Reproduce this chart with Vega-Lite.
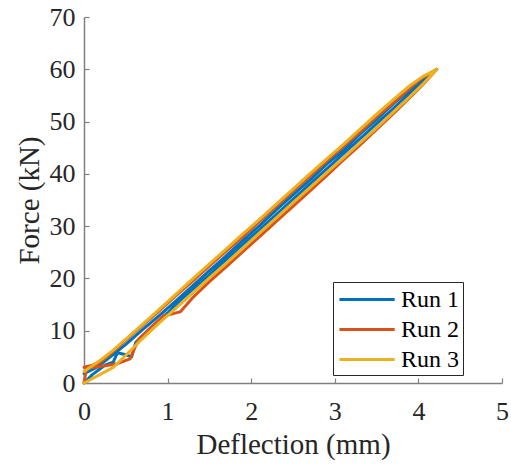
{
  "$schema": "https://vega.github.io/schema/vega-lite/v6.json",
  "width": 418,
  "height": 366,
  "autosize": {"type": "none"},
  "padding": {"left": 84, "top": 17, "right": 9, "bottom": 81},
  "background": "white",
  "config": {
    "view": {"stroke": null},
    "font": "Liberation Serif",
    "axis": {
      "grid": false,
      "domainColor": "#808080",
      "domainWidth": 1.5,
      "tickColor": "#808080",
      "tickWidth": 1.2,
      "tickSize": -5,
      "labelFlush": false,
      "labelOverlap": false,
      "labelBound": false,
      "labelFont": "Liberation Serif",
      "labelFontSize": 26,
      "labelColor": "#262626",
      "titleFont": "Liberation Serif",
      "titleFontSize": 29,
      "titleFontWeight": "normal",
      "titleColor": "#262626"
    }
  },
  "data": {
    "values": [
      {"run":"Run 1","i":0,"x":0,"y":0},
      {"run":"Run 1","i":1,"x":0.1,"y":1.6},
      {"run":"Run 1","i":2,"x":0.25,"y":3.4},
      {"run":"Run 1","i":3,"x":0.35,"y":4.0},
      {"run":"Run 1","i":4,"x":0.4,"y":5.8},
      {"run":"Run 1","i":5,"x":0.5,"y":5.4},
      {"run":"Run 1","i":6,"x":0.57,"y":5.0},
      {"run":"Run 1","i":7,"x":0.62,"y":7.8},
      {"run":"Run 1","i":8,"x":0.8,"y":10.6},
      {"run":"Run 1","i":9,"x":1.0,"y":13.4},
      {"run":"Run 1","i":10,"x":1.15,"y":15.8},
      {"run":"Run 1","i":11,"x":1.3,"y":17.9},
      {"run":"Run 1","i":12,"x":1.5,"y":20.7},
      {"run":"Run 1","i":13,"x":1.7,"y":23.6},
      {"run":"Run 1","i":14,"x":1.9,"y":26.5},
      {"run":"Run 1","i":15,"x":2.1,"y":29.3},
      {"run":"Run 1","i":16,"x":2.3,"y":32.2},
      {"run":"Run 1","i":17,"x":2.5,"y":35.1},
      {"run":"Run 1","i":18,"x":2.7,"y":38.0},
      {"run":"Run 1","i":19,"x":2.9,"y":40.9},
      {"run":"Run 1","i":20,"x":3.1,"y":43.8},
      {"run":"Run 1","i":21,"x":3.3,"y":46.7},
      {"run":"Run 1","i":22,"x":3.5,"y":49.6},
      {"run":"Run 1","i":23,"x":3.7,"y":52.5},
      {"run":"Run 1","i":24,"x":3.9,"y":55.5},
      {"run":"Run 1","i":25,"x":4.05,"y":57.7},
      {"run":"Run 1","i":26,"x":4.22,"y":60.0},
      {"run":"Run 1","i":27,"x":4.05,"y":58.2},
      {"run":"Run 1","i":28,"x":3.9,"y":56.2},
      {"run":"Run 1","i":29,"x":3.7,"y":53.4},
      {"run":"Run 1","i":30,"x":3.5,"y":50.4},
      {"run":"Run 1","i":31,"x":3.3,"y":47.6},
      {"run":"Run 1","i":32,"x":3.1,"y":44.5},
      {"run":"Run 1","i":33,"x":2.9,"y":41.8},
      {"run":"Run 1","i":34,"x":2.7,"y":38.8},
      {"run":"Run 1","i":35,"x":2.5,"y":36.0},
      {"run":"Run 1","i":36,"x":2.3,"y":33.1},
      {"run":"Run 1","i":37,"x":2.1,"y":30.1},
      {"run":"Run 1","i":38,"x":1.9,"y":27.3},
      {"run":"Run 1","i":39,"x":1.7,"y":24.3},
      {"run":"Run 1","i":40,"x":1.5,"y":21.5},
      {"run":"Run 1","i":41,"x":1.3,"y":18.6},
      {"run":"Run 1","i":42,"x":1.1,"y":15.7},
      {"run":"Run 1","i":43,"x":0.9,"y":12.9},
      {"run":"Run 1","i":44,"x":0.7,"y":10.2},
      {"run":"Run 1","i":45,"x":0.5,"y":7.4},
      {"run":"Run 1","i":46,"x":0.3,"y":4.8},
      {"run":"Run 1","i":47,"x":0.15,"y":3.0},
      {"run":"Run 1","i":48,"x":0,"y":1.8},

      {"run":"Run 2","i":0,"x":0,"y":0},
      {"run":"Run 2","i":1,"x":0.03,"y":2.8},
      {"run":"Run 2","i":2,"x":0.25,"y":3.3},
      {"run":"Run 2","i":3,"x":0.4,"y":3.7},
      {"run":"Run 2","i":4,"x":0.55,"y":4.6},
      {"run":"Run 2","i":5,"x":0.65,"y":8.3},
      {"run":"Run 2","i":6,"x":0.8,"y":10.6},
      {"run":"Run 2","i":7,"x":0.95,"y":12.8},
      {"run":"Run 2","i":8,"x":1.15,"y":13.6},
      {"run":"Run 2","i":9,"x":1.3,"y":16.3},
      {"run":"Run 2","i":10,"x":1.5,"y":19.4},
      {"run":"Run 2","i":11,"x":1.7,"y":22.2},
      {"run":"Run 2","i":12,"x":1.9,"y":25.1},
      {"run":"Run 2","i":13,"x":2.1,"y":28.0},
      {"run":"Run 2","i":14,"x":2.3,"y":30.9},
      {"run":"Run 2","i":15,"x":2.5,"y":33.8},
      {"run":"Run 2","i":16,"x":2.7,"y":36.7},
      {"run":"Run 2","i":17,"x":2.9,"y":39.6},
      {"run":"Run 2","i":18,"x":3.1,"y":42.6},
      {"run":"Run 2","i":19,"x":3.3,"y":45.5},
      {"run":"Run 2","i":20,"x":3.5,"y":48.5},
      {"run":"Run 2","i":21,"x":3.7,"y":51.5},
      {"run":"Run 2","i":22,"x":3.9,"y":54.6},
      {"run":"Run 2","i":23,"x":4.05,"y":57.0},
      {"run":"Run 2","i":24,"x":4.22,"y":60.0},
      {"run":"Run 2","i":25,"x":4.05,"y":58.4},
      {"run":"Run 2","i":26,"x":3.9,"y":56.4},
      {"run":"Run 2","i":27,"x":3.7,"y":53.6},
      {"run":"Run 2","i":28,"x":3.5,"y":50.9},
      {"run":"Run 2","i":29,"x":3.3,"y":48.0},
      {"run":"Run 2","i":30,"x":3.1,"y":45.2},
      {"run":"Run 2","i":31,"x":2.9,"y":42.4},
      {"run":"Run 2","i":32,"x":2.7,"y":39.5},
      {"run":"Run 2","i":33,"x":2.5,"y":36.7},
      {"run":"Run 2","i":34,"x":2.3,"y":33.8},
      {"run":"Run 2","i":35,"x":2.1,"y":30.9},
      {"run":"Run 2","i":36,"x":1.9,"y":28.0},
      {"run":"Run 2","i":37,"x":1.7,"y":25.2},
      {"run":"Run 2","i":38,"x":1.5,"y":22.4},
      {"run":"Run 2","i":39,"x":1.3,"y":19.5},
      {"run":"Run 2","i":40,"x":1.1,"y":16.7},
      {"run":"Run 2","i":41,"x":0.9,"y":13.8},
      {"run":"Run 2","i":42,"x":0.7,"y":11.0},
      {"run":"Run 2","i":43,"x":0.5,"y":8.2},
      {"run":"Run 2","i":44,"x":0.35,"y":6.0},
      {"run":"Run 2","i":45,"x":0.2,"y":4.0},
      {"run":"Run 2","i":46,"x":0.1,"y":3.4},
      {"run":"Run 2","i":47,"x":0,"y":3.0},

      {"run":"Run 3","i":0,"x":0,"y":0},
      {"run":"Run 3","i":1,"x":0.2,"y":1.7},
      {"run":"Run 3","i":2,"x":0.35,"y":3.0},
      {"run":"Run 3","i":3,"x":0.5,"y":5.3},
      {"run":"Run 3","i":4,"x":0.7,"y":8.5},
      {"run":"Run 3","i":5,"x":0.9,"y":11.5},
      {"run":"Run 3","i":6,"x":1.1,"y":14.3},
      {"run":"Run 3","i":7,"x":1.3,"y":17.2},
      {"run":"Run 3","i":8,"x":1.5,"y":20.1},
      {"run":"Run 3","i":9,"x":1.7,"y":22.9},
      {"run":"Run 3","i":10,"x":1.9,"y":25.8},
      {"run":"Run 3","i":11,"x":2.1,"y":28.7},
      {"run":"Run 3","i":12,"x":2.3,"y":31.6},
      {"run":"Run 3","i":13,"x":2.5,"y":34.5},
      {"run":"Run 3","i":14,"x":2.7,"y":37.3},
      {"run":"Run 3","i":15,"x":2.9,"y":40.2},
      {"run":"Run 3","i":16,"x":3.1,"y":43.0},
      {"run":"Run 3","i":17,"x":3.3,"y":45.9},
      {"run":"Run 3","i":18,"x":3.5,"y":48.8},
      {"run":"Run 3","i":19,"x":3.7,"y":51.8},
      {"run":"Run 3","i":20,"x":3.9,"y":54.8},
      {"run":"Run 3","i":21,"x":4.05,"y":57.1},
      {"run":"Run 3","i":22,"x":4.22,"y":60.0},
      {"run":"Run 3","i":23,"x":4.05,"y":58.6},
      {"run":"Run 3","i":24,"x":3.9,"y":56.9},
      {"run":"Run 3","i":25,"x":3.7,"y":54.2},
      {"run":"Run 3","i":26,"x":3.5,"y":51.4},
      {"run":"Run 3","i":27,"x":3.3,"y":48.5},
      {"run":"Run 3","i":28,"x":3.1,"y":45.6},
      {"run":"Run 3","i":29,"x":2.9,"y":42.8},
      {"run":"Run 3","i":30,"x":2.7,"y":40.0},
      {"run":"Run 3","i":31,"x":2.5,"y":37.1},
      {"run":"Run 3","i":32,"x":2.3,"y":34.2},
      {"run":"Run 3","i":33,"x":2.1,"y":31.3},
      {"run":"Run 3","i":34,"x":1.9,"y":28.5},
      {"run":"Run 3","i":35,"x":1.7,"y":25.6},
      {"run":"Run 3","i":36,"x":1.5,"y":22.8},
      {"run":"Run 3","i":37,"x":1.3,"y":19.9},
      {"run":"Run 3","i":38,"x":1.1,"y":17.0},
      {"run":"Run 3","i":39,"x":0.9,"y":14.1},
      {"run":"Run 3","i":40,"x":0.7,"y":11.2},
      {"run":"Run 3","i":41,"x":0.5,"y":8.4},
      {"run":"Run 3","i":42,"x":0.35,"y":6.3},
      {"run":"Run 3","i":43,"x":0.2,"y":4.4},
      {"run":"Run 3","i":44,"x":0,"y":2.2}
    ]
  },
  "mark": {"type": "line", "strokeWidth": 3, "strokeJoin": "round", "strokeCap": "round"},
  "encoding": {
    "x": {
      "field": "x", "type": "quantitative",
      "scale": {"domain": [0, 5], "nice": false, "zero": false},
      "axis": {"values": [0, 1, 2, 3, 4, 5], "format": "d", "title": "Deflection (mm)", "labelPadding": 20, "titlePadding": 6}
    },
    "y": {
      "field": "y", "type": "quantitative",
      "scale": {"domain": [0, 70], "nice": false},
      "axis": {"values": [0, 10, 20, 30, 40, 50, 60, 70], "format": "d", "title": "Force (kN)", "labelPadding": 14, "titlePadding": 5}
    },
    "color": {
      "field": "run", "type": "nominal",
      "scale": {"domain": ["Run 1", "Run 2", "Run 3"], "range": ["#0072BD", "#D95319", "#EDB120"]},
      "legend": {
        "title": null,
        "orient": "none",
        "legendX": 249,
        "legendY": 265,
        "symbolType": "M-0.85,0H3.4",
        "symbolSize": 676,
        "symbolStrokeWidth": 3,
        "labelFont": "Liberation Serif",
        "labelFontSize": 24,
        "labelColor": "#000000",
        "labelOffset": 36,
        "labelExpr": "datum.label + ' '",
        "rowPadding": 3,
        "fillColor": "white",
        "strokeColor": "#262626",
        "padding": 3
      }
    },
    "order": {"field": "i", "type": "quantitative"}
  }
}
